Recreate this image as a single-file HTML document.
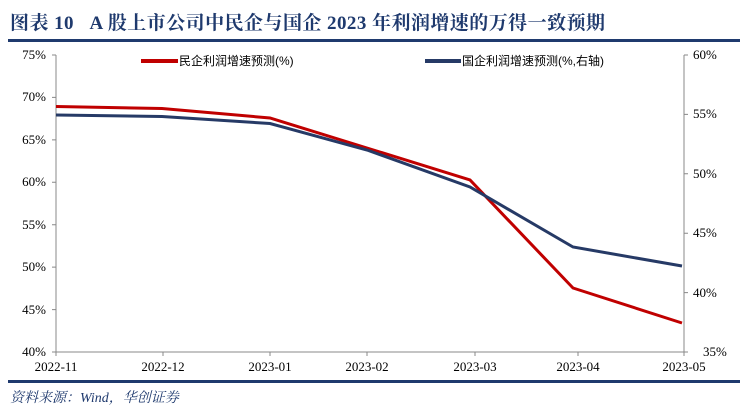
<!DOCTYPE html>
<html><head><meta charset="utf-8"><style>
body{margin:0;width:751px;height:410px;background:#fff;overflow:hidden}
text{white-space:pre}
.s{font-family:"Liberation Serif","Noto Serif CJK SC",serif}
</style></head><body>
<svg width="751" height="410" xmlns="http://www.w3.org/2000/svg">
<text class="s" x="10" y="29" font-size="19" font-weight="bold" fill="#1f3a6e" xml:space="preserve" textLength="595" lengthAdjust="spacing">图表 10   A 股上市公司中民企与国企 2023 年利润增速的万得一致预期</text>
<rect x="8" y="39" width="732" height="3" fill="#1f3a6e"/>
<rect x="8" y="380" width="732" height="3" fill="#1f3a6e"/>
<text class="s" x="10" y="402" font-size="14" font-style="italic" fill="#1f3a6e">资料来源：Wind，华创证券</text>
<g stroke="#888" stroke-width="1" fill="none">
<line x1="56" y1="55" x2="56" y2="352"/>
<line x1="56" y1="352" x2="684" y2="352"/>
<line x1="684" y1="55" x2="684" y2="352"/>
<path d="M52 55h4M52 97.4h4M52 139.9h4M52 182.3h4M52 224.7h4M52 267.1h4M52 309.6h4M52 352h4"/>
<path d="M684 55h4M684 114.4h4M684 173.8h4M684 233.2h4M684 292.6h4M684 352h4"/>
<path d="M56 352v4M163 352v4M270 352v4M367 352v4M475 352v4M578 352v4M684 352v4"/>
</g>
<g class="s" font-size="13" fill="#000" text-anchor="end">
<text x="46" y="59">75%</text><text x="46" y="101">70%</text><text x="46" y="144">65%</text><text x="46" y="186">60%</text><text x="46" y="229">55%</text><text x="46" y="271">50%</text><text x="46" y="314">45%</text><text x="46" y="356">40%</text>
</g>
<g class="s" font-size="13" fill="#000">
<text x="693" y="59">60%</text><text x="693" y="118">55%</text><text x="693" y="178">50%</text><text x="693" y="237">45%</text><text x="693" y="297">40%</text><text x="703" y="356">35%</text>
</g>
<g class="s" font-size="13" fill="#000" text-anchor="middle">
<text x="56" y="371">2022-11</text><text x="163" y="371">2022-12</text><text x="270" y="371">2023-01</text><text x="367" y="371">2023-02</text><text x="475" y="371">2023-03</text><text x="578" y="371">2023-04</text><text x="684" y="371">2023-05</text>
</g>
<polyline points="56,106.5 162,108.5 270,118 367,148 470,180 573,288 682,323" fill="none" stroke="#c00000" stroke-width="3"/>
<polyline points="56,115 162,116.5 270,123.5 367,150 470,187 573,247 682,266" fill="none" stroke="#263a66" stroke-width="3"/>
<line x1="141" y1="61" x2="178" y2="61" stroke="#c00000" stroke-width="4"/>
<text x="179" y="65" font-size="12" font-family="'Liberation Sans','Noto Sans CJK SC',sans-serif">民企利润增速预测(%)</text>
<line x1="425" y1="61" x2="461" y2="61" stroke="#263a66" stroke-width="4"/>
<text x="462" y="65" font-size="12" font-family="'Liberation Sans','Noto Sans CJK SC',sans-serif">国企利润增速预测(%,右轴)</text>
</svg>
</body></html>
